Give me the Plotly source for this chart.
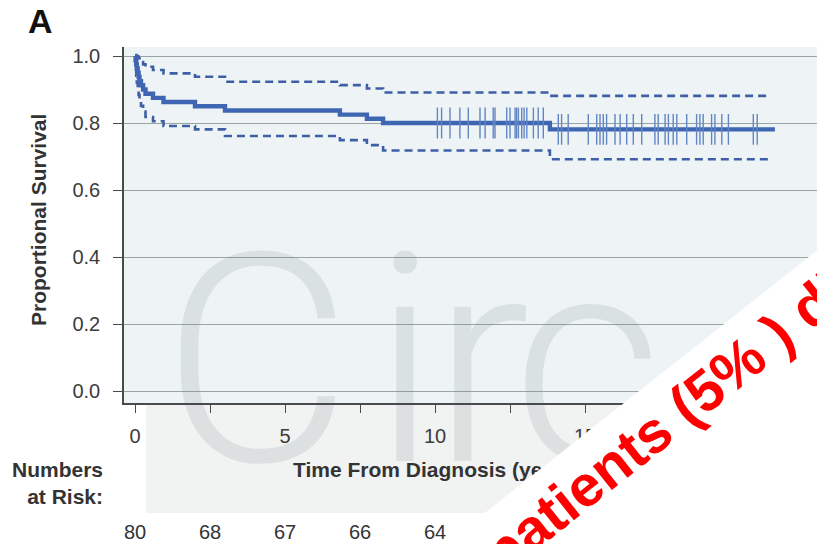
import plotly.graph_objects as go

# ---------------- data ----------------
step_times = [0, 0.02, 0.04, 0.06, 0.09, 0.12, 0.15, 0.20, 0.27, 0.35, 0.60, 0.95,
              2.0, 3.0, 6.83, 7.73, 8.27, 13.83]
survival = [1.0, 0.9875, 0.975, 0.9625, 0.95, 0.9375, 0.925, 0.9125, 0.90, 0.8875,
            0.875, 0.8625, 0.85, 0.8375, 0.825, 0.8125, 0.80, 0.781]
upper_ci = [1.0, 1.0, 1.0, 1.0, 0.998, 0.993, 0.988, 0.982, 0.975, 0.968,
            0.958, 0.948, 0.938, 0.923, 0.913, 0.903, 0.891, 0.881]
lower_ci = [1.0, 0.963, 0.941, 0.921, 0.902, 0.884, 0.867, 0.851, 0.834, 0.818,
            0.805, 0.791, 0.781, 0.761, 0.749, 0.734, 0.718, 0.692]
curve_end = 21.33
ci_end = 21.17

censor_times = [10.08, 10.22, 10.5, 10.83, 11.11, 11.5, 11.67, 11.94, 12.0, 12.39,
                12.5, 12.67, 12.72, 12.78, 12.89, 12.97, 13.06, 13.28, 13.44, 13.61,
                14.11, 14.22, 14.44, 15.11, 15.39, 15.5, 15.61, 15.72, 16.0, 16.17,
                16.39, 16.61, 16.89, 17.33, 17.44, 17.67, 17.78, 17.94, 18.06, 18.39,
                18.72, 18.83, 18.94, 19.22, 19.33, 19.56, 19.78, 20.61, 20.74]

risk_times = [0, 2.5, 5, 7.5, 10]
risk_numbers = ["80", "68", "67", "66", "64"]

x_tick_vals = [0, 2.5, 5, 7.5, 10, 12.5, 15, 17.5, 20, 22.5]
x_tick_text = ["0", "", "5", "", "10", "", "15", "", "20", ""]
y_tick_vals = [0, 0.2, 0.4, 0.6, 0.8, 1.0]
y_tick_text = ["0.0", "0.2", "0.4", "0.6", "0.8", "1.0"]

watermark_letters = ["C", "i", "r", "c"]

# ---------------- layout geometry (pixels) ----------------
W, H = 817, 544
L, R, T, B = 124, 817, 47, 403
X0_PX, X_PER = 135, 30.0      # x=0 at px 135, 30 px / year
Y0_PX, Y_PER = 391, 335.0     # y=0 at px 391


def dx(px):
    return (px - X0_PX) / X_PER


def dy(py):
    return (Y0_PX - py) / Y_PER


def paper_x(px):
    return (px - L) / (R - L)


def paper_y(py):
    return (B - py) / (B - T)


def surv_at(t):
    s = survival[0]
    for ti, si in zip(step_times, survival):
        if ti <= t:
            s = si
    return s


BLUE = "#3f66b3"
DASH_BLUE = "#3e5fa6"
FONT = "Liberation Sans, Arial, sans-serif"
TXT = "#333333"

fig = go.Figure()

# watermark letters (behind the curves, covered by the white band)
wm_px = [162, 372, 432, 512]
fig.add_trace(go.Scatter(
    x=[dx(p) for p in wm_px], y=[dy(388)] * len(wm_px), mode="text",
    text=watermark_letters,
    textposition="middle right", cliponaxis=False, hoverinfo="skip", showlegend=False,
    textfont=dict(family="Roboto, Lato, sans-serif", size=292, weight=300,
                  color="rgba(110,120,120,0.15)")))

fig.add_trace(go.Scatter(
    x=step_times + [ci_end], y=upper_ci + [upper_ci[-1]], mode="lines",
    line=dict(shape="hv", color=DASH_BLUE, width=2.6, dash="8px,5px"),
    showlegend=False, hoverinfo="skip"))
fig.add_trace(go.Scatter(
    x=step_times + [ci_end], y=lower_ci + [lower_ci[-1]], mode="lines",
    line=dict(shape="hv", color=DASH_BLUE, width=2.6, dash="8px,5px"),
    showlegend=False, hoverinfo="skip"))
fig.add_trace(go.Scatter(
    x=step_times + [curve_end], y=survival + [survival[-1]], mode="lines",
    line=dict(shape="hv", color=BLUE, width=4.4),
    showlegend=False, hoverinfo="skip"))
fig.add_trace(go.Scatter(
    x=censor_times, y=[surv_at(t) for t in censor_times], mode="markers",
    marker=dict(symbol="line-ns", size=22, line=dict(width=1.4, color="#6285c4")),
    showlegend=False, hoverinfo="skip"))

fig.update_xaxes(
    range=[dx(L), dx(R)], tickvals=x_tick_vals, ticktext=x_tick_text,
    showgrid=False, zeroline=False, showline=True, linecolor="#4a4a4a", linewidth=1.6,
    ticks="outside", ticklen=8, tickwidth=1.4, tickcolor="#4a4a4a",
    ticklabelstandoff=6, tickfont=dict(family=FONT, size=20, color="#3c3c3c"))
fig.update_yaxes(
    range=[dy(B), dy(T)], tickvals=y_tick_vals, ticktext=y_tick_text,
    showgrid=True, gridcolor="#9aa4a4", gridwidth=1.3, zeroline=False,
    showline=True, linecolor="#4a4a4a", linewidth=1.6,
    ticks="outside", ticklen=9, tickwidth=1.4, tickcolor="#4a4a4a",
    ticklabelstandoff=9, tickfont=dict(family=FONT, size=20, color="#3c3c3c"))

shapes = [
    # light grey watermark box under the axis
    dict(type="rect", xref="paper", yref="paper", layer="below",
         x0=paper_x(146), x1=paper_x(R + 20), y0=paper_y(513), y1=paper_y(B + 1),
         fillcolor="#f1f2f2", line=dict(width=0)),
]

annotations = [
    dict(text="<b>A</b>", x=paper_x(40), y=paper_y(21), xref="paper", yref="paper",
         showarrow=False, font=dict(family=FONT, size=34, color="#111111"),
         xanchor="center", yanchor="middle"),
    dict(text="<b>Proportional Survival</b>", x=paper_x(38), y=paper_y(220),
         xref="paper", yref="paper", showarrow=False, textangle=-90,
         font=dict(family=FONT, size=21, color=TXT), xanchor="center", yanchor="middle"),
    dict(text="<b>Numbers</b><br><b>at Risk:</b>", x=paper_x(105), y=paper_y(483),
         xref="paper", yref="paper", showarrow=False, align="right",
         font=dict(family=FONT, size=21, color=TXT), xanchor="right", yanchor="middle"),
    dict(text="<b>Time From Diagnosis (years)</b>", x=paper_x(291), y=paper_y(469),
         xref="paper", yref="paper", showarrow=False,
         font=dict(family=FONT, size=21, color=TXT), xanchor="left", yanchor="middle"),
]
for t, n in zip(risk_times, risk_numbers):
    annotations.append(dict(text=n, x=t, xref="x", y=paper_y(532), yref="paper",
                            showarrow=False, xanchor="center", yanchor="middle",
                            font=dict(family=FONT, size=20, color=TXT)))

# white diagonal band covering the lower-right corner
ANG = 38.3
annotations.append(dict(
    text=" ", x=paper_x(892), y=paper_y(701), xref="paper", yref="paper",
    showarrow=False, width=1400, height=800, bgcolor="white", borderpad=0,
    borderwidth=0, textangle=-ANG, xanchor="center", yanchor="middle"))
# red overlay text
annotations.append(dict(
    text="<b>patients (5% ) died</b>", x=paper_x(690), y=paper_y(401),
    xref="paper", yref="paper", showarrow=False, textangle=-38.5,
    font=dict(family=FONT, size=58, color="#ff0000"),
    xanchor="center", yanchor="middle"))

fig.update_layout(
    width=W, height=H, margin=dict(l=L, r=W - R, t=T, b=H - B),
    paper_bgcolor="white", plot_bgcolor="#eef4f6",
    shapes=shapes, annotations=annotations, showlegend=False)

fig.write_html("out.html", config={"displayModeBar": False},
               post_script="document.body.style.margin='0';"
                           "document.body.style.overflow='hidden';")
